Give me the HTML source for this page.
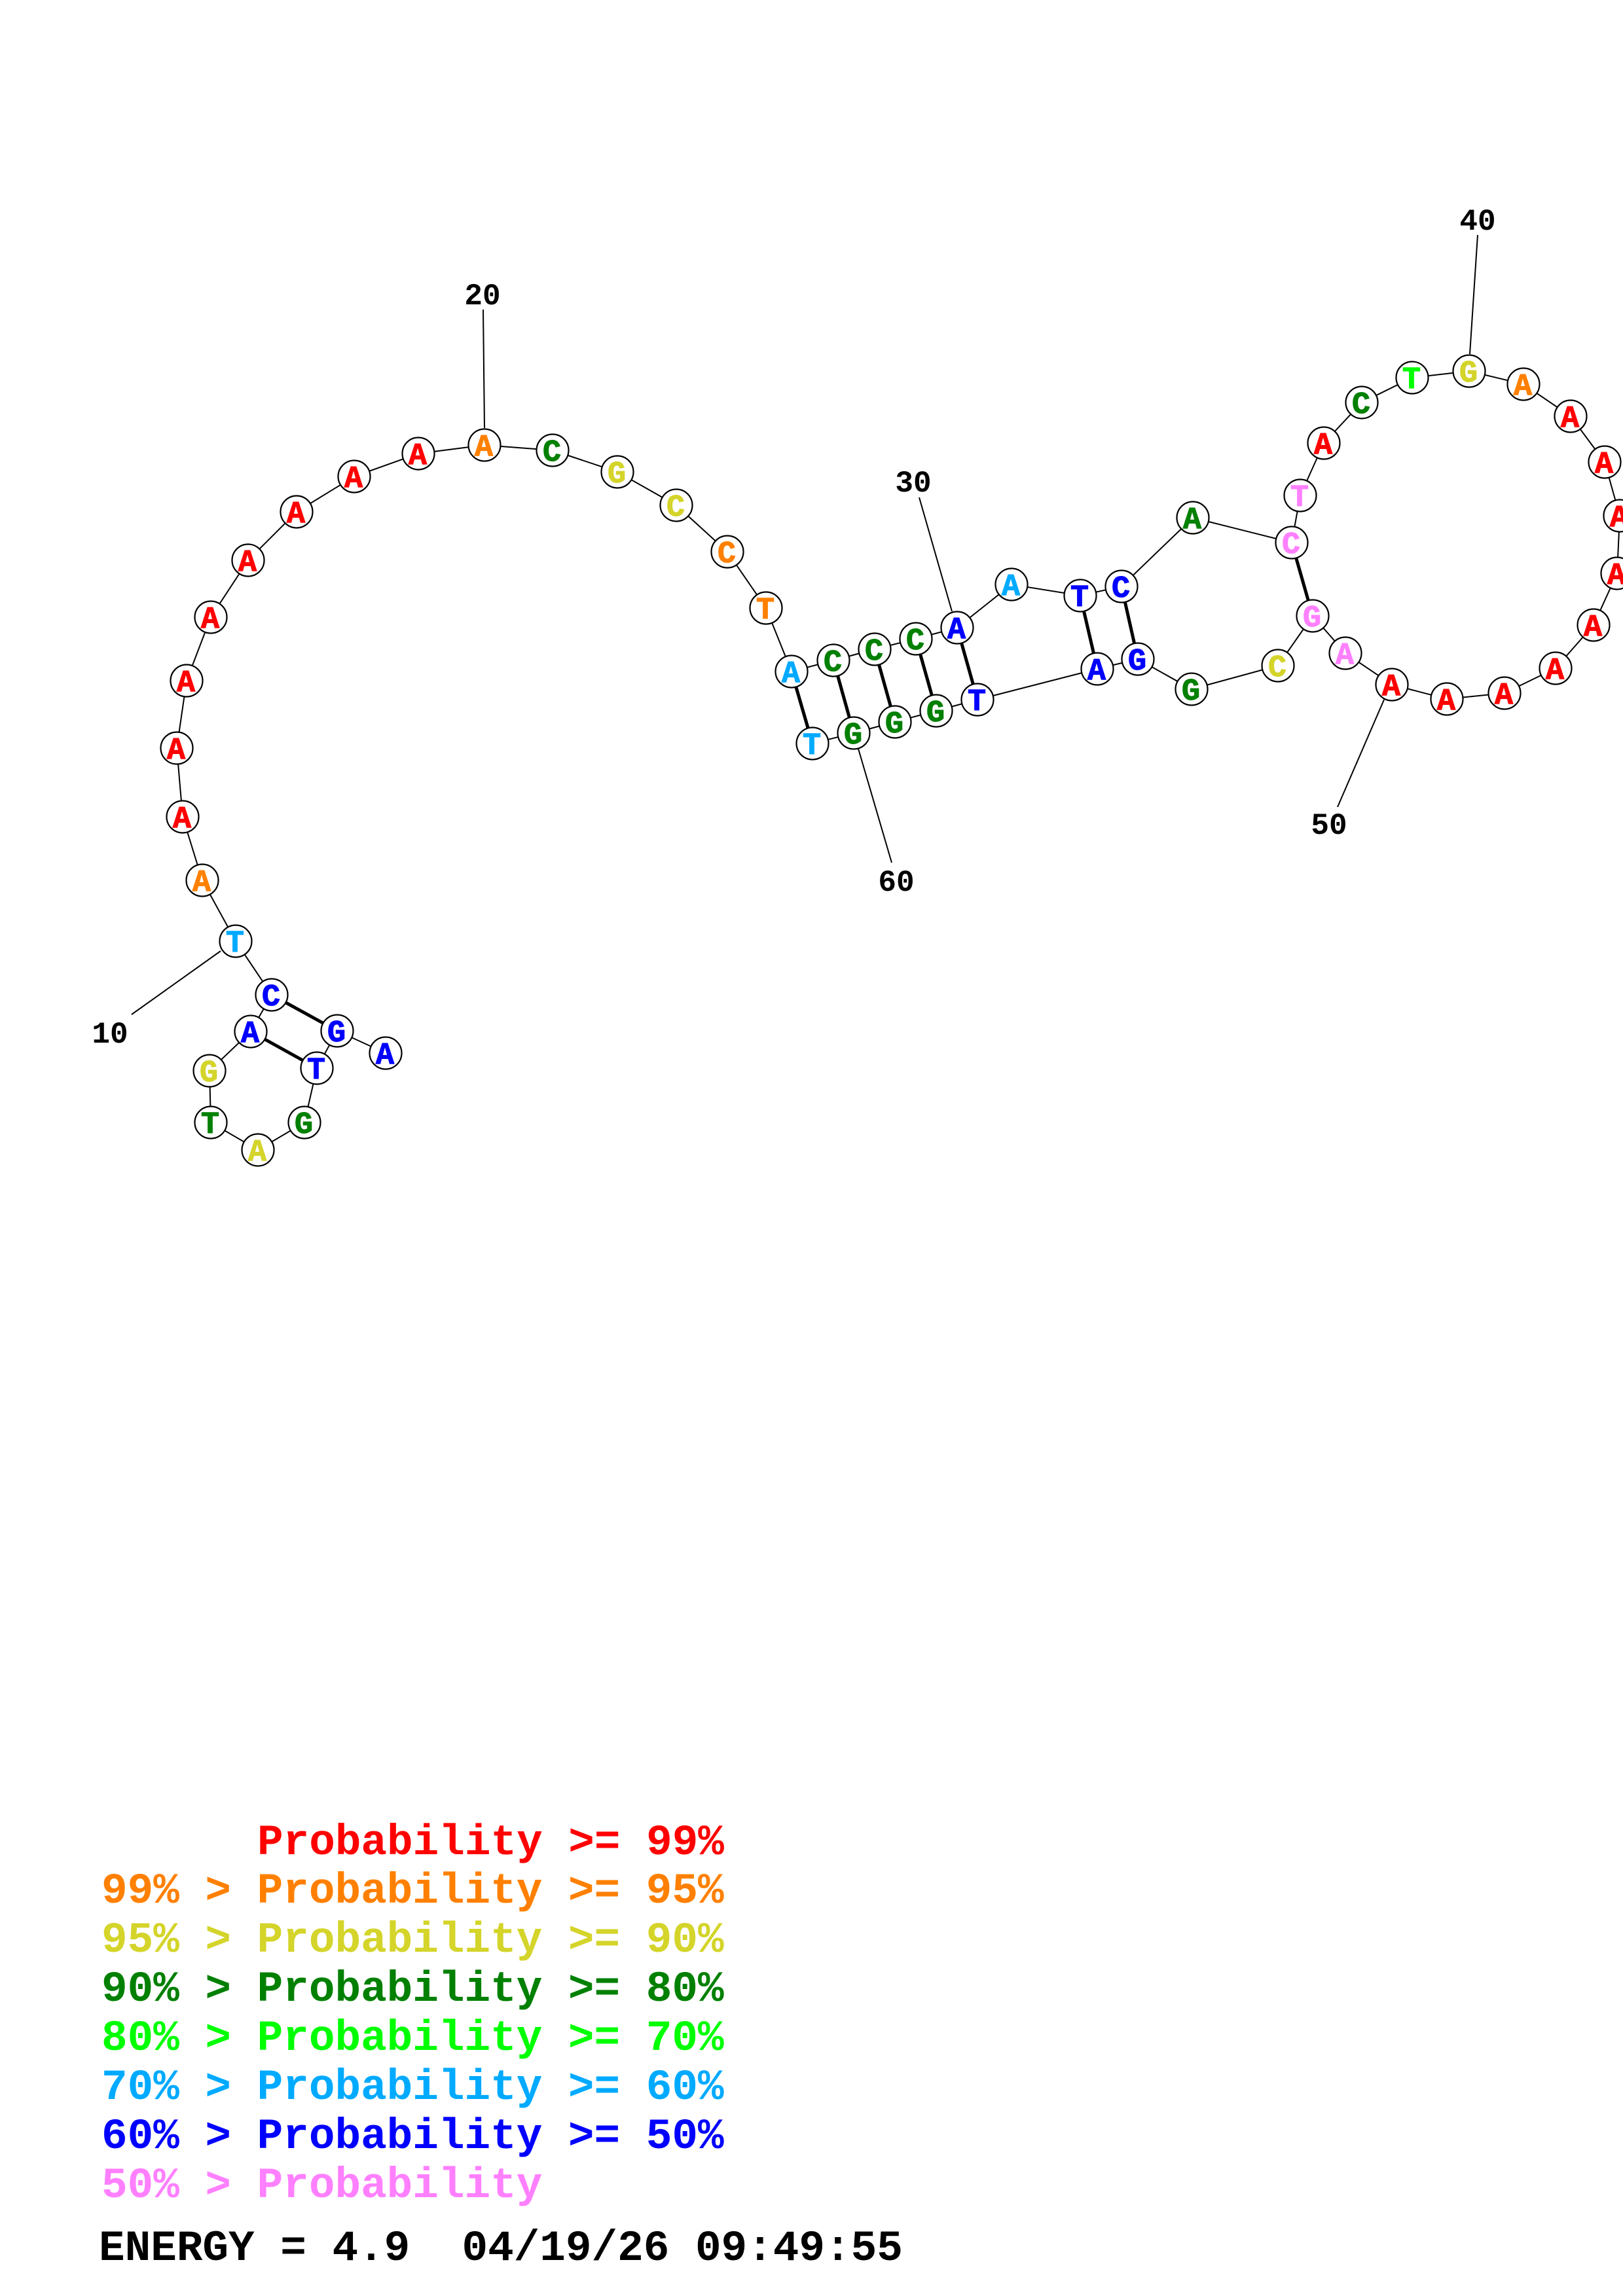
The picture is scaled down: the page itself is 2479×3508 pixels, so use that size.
<!DOCTYPE html>
<html>
<head>
<meta charset="utf-8">
<style>
html,body{margin:0;padding:0;background:#fff;}
svg{display:block;}
.n circle{fill:#fff;stroke:#000;stroke-width:2.2;}
.n text{font-family:"Liberation Mono",monospace;font-weight:bold;font-size:47px;text-anchor:middle;stroke-width:1;}
.lbl{font-family:"Liberation Mono",monospace;font-weight:bold;font-size:46px;text-anchor:middle;fill:#000;}
.leg{font-family:"Liberation Mono",monospace;font-weight:bold;font-size:66px;}
</style>
</head>
<body>
<svg width="2479" height="3508" viewBox="0 0 2479 3508" xmlns="http://www.w3.org/2000/svg">
<rect x="0" y="0" width="2479" height="3508" fill="#fff"/>

<g stroke="#000" stroke-width="2" fill="none">
<line x1="337" y1="1453" x2="201" y2="1550"/>
<line x1="738" y1="473" x2="740" y2="654"/>
<line x1="1404" y1="760" x2="1454" y2="934"/>
<line x1="2257" y1="359" x2="2245" y2="541"/>
<line x1="2114" y1="1069" x2="2043" y2="1233"/>
<line x1="1311" y1="1144" x2="1362" y2="1318"/>
</g>
<text class="lbl" x="168" y="1593">10</text>
<text class="lbl" x="737" y="465">20</text>
<text class="lbl" x="1395" y="751">30</text>
<text class="lbl" x="2257" y="351">40</text>
<text class="lbl" x="2030" y="1274">50</text>
<text class="lbl" x="1369" y="1361">60</text>

<polyline fill="none" stroke="#000" stroke-width="2" points="589,1609 515,1575 484,1632 465,1715 394,1757 322,1715 320,1636 383,1576 415,1520 360,1438 309,1345 279,1248 270,1143 285,1040 322,943 379,856 453,782 541,728 639,693 740,680 844,688 943,721 1033,772 1111,843 1170,929 1209,1026 1273,1009 1336,992 1399,976 1462,959 1545,893 1650,910 1713,896 1822,791 1973,829 1986,757 2022,677 2080,615 2157,577 2244,567 2327,587 2399,636 2451,706 2474,788 2470,876 2434,955 2376,1021 2298,1059 2210,1068 2126,1046 2055,998 2005,941 1952,1017 1820,1053 1738,1007 1676,1022 1493,1069 1430,1086 1367,1103 1304,1120 1241,1136"/>

<g stroke="#000" stroke-width="5">
<line x1="515" y1="1575" x2="415" y2="1520"/>
<line x1="484" y1="1632" x2="383" y2="1576"/>
<line x1="1209" y1="1026" x2="1241" y2="1136"/>
<line x1="1273" y1="1009" x2="1304" y2="1120"/>
<line x1="1336" y1="992" x2="1367" y2="1103"/>
<line x1="1399" y1="976" x2="1430" y2="1086"/>
<line x1="1462" y1="959" x2="1493" y2="1069"/>
<line x1="1650" y1="910" x2="1676" y2="1022"/>
<line x1="1713" y1="896" x2="1738" y2="1007"/>
<line x1="1973" y1="829" x2="2005" y2="941"/>
</g>

<g class="n">
<circle cx="589" cy="1609" r="24.5"/><text x="588" y="1625" fill="#0000ff" stroke="#0000ff">A</text>
<circle cx="515" cy="1575" r="24.5"/><text x="514" y="1591" fill="#0000ff" stroke="#0000ff">G</text>
<circle cx="484" cy="1632" r="24.5"/><text x="483" y="1648" fill="#0000ff" stroke="#0000ff">T</text>
<circle cx="465" cy="1715" r="24.5"/><text x="464" y="1731" fill="#008000" stroke="#008000">G</text>
<circle cx="394" cy="1757" r="24.5"/><text x="393" y="1773" fill="#d4d42a" stroke="#d4d42a">A</text>
<circle cx="322" cy="1715" r="24.5"/><text x="321" y="1731" fill="#008000" stroke="#008000">T</text>
<circle cx="320" cy="1636" r="24.5"/><text x="319" y="1652" fill="#d4d42a" stroke="#d4d42a">G</text>
<circle cx="383" cy="1576" r="24.5"/><text x="382" y="1592" fill="#0000ff" stroke="#0000ff">A</text>
<circle cx="415" cy="1520" r="24.5"/><text x="414" y="1536" fill="#0000ff" stroke="#0000ff">C</text>
<circle cx="360" cy="1438" r="24.5"/><text x="359" y="1454" fill="#00aaff" stroke="#00aaff">T</text>
<circle cx="309" cy="1345" r="24.5"/><text x="308" y="1361" fill="#ff8000" stroke="#ff8000">A</text>
<circle cx="279" cy="1248" r="24.5"/><text x="278" y="1264" fill="#ff0000" stroke="#ff0000">A</text>
<circle cx="270" cy="1143" r="24.5"/><text x="269" y="1159" fill="#ff0000" stroke="#ff0000">A</text>
<circle cx="285" cy="1040" r="24.5"/><text x="284" y="1056" fill="#ff0000" stroke="#ff0000">A</text>
<circle cx="322" cy="943" r="24.5"/><text x="321" y="959" fill="#ff0000" stroke="#ff0000">A</text>
<circle cx="379" cy="856" r="24.5"/><text x="378" y="872" fill="#ff0000" stroke="#ff0000">A</text>
<circle cx="453" cy="782" r="24.5"/><text x="452" y="798" fill="#ff0000" stroke="#ff0000">A</text>
<circle cx="541" cy="728" r="24.5"/><text x="540" y="744" fill="#ff0000" stroke="#ff0000">A</text>
<circle cx="639" cy="693" r="24.5"/><text x="638" y="709" fill="#ff0000" stroke="#ff0000">A</text>
<circle cx="740" cy="680" r="24.5"/><text x="739" y="696" fill="#ff8000" stroke="#ff8000">A</text>
<circle cx="844" cy="688" r="24.5"/><text x="843" y="704" fill="#008000" stroke="#008000">C</text>
<circle cx="943" cy="721" r="24.5"/><text x="942" y="737" fill="#d4d42a" stroke="#d4d42a">G</text>
<circle cx="1033" cy="772" r="24.5"/><text x="1032" y="788" fill="#d4d42a" stroke="#d4d42a">C</text>
<circle cx="1111" cy="843" r="24.5"/><text x="1110" y="859" fill="#ff8000" stroke="#ff8000">C</text>
<circle cx="1170" cy="929" r="24.5"/><text x="1169" y="945" fill="#ff8000" stroke="#ff8000">T</text>
<circle cx="1209" cy="1026" r="24.5"/><text x="1208" y="1042" fill="#00aaff" stroke="#00aaff">A</text>
<circle cx="1273" cy="1009" r="24.5"/><text x="1272" y="1025" fill="#008000" stroke="#008000">C</text>
<circle cx="1336" cy="992" r="24.5"/><text x="1335" y="1008" fill="#008000" stroke="#008000">C</text>
<circle cx="1399" cy="976" r="24.5"/><text x="1398" y="992" fill="#008000" stroke="#008000">C</text>
<circle cx="1462" cy="959" r="24.5"/><text x="1461" y="975" fill="#0000ff" stroke="#0000ff">A</text>
<circle cx="1545" cy="893" r="24.5"/><text x="1544" y="909" fill="#00aaff" stroke="#00aaff">A</text>
<circle cx="1650" cy="910" r="24.5"/><text x="1649" y="926" fill="#0000ff" stroke="#0000ff">T</text>
<circle cx="1713" cy="896" r="24.5"/><text x="1712" y="912" fill="#0000ff" stroke="#0000ff">C</text>
<circle cx="1822" cy="791" r="24.5"/><text x="1821" y="807" fill="#008000" stroke="#008000">A</text>
<circle cx="1973" cy="829" r="24.5"/><text x="1972" y="845" fill="#ff80ff" stroke="#ff80ff">C</text>
<circle cx="1986" cy="757" r="24.5"/><text x="1985" y="773" fill="#ff80ff" stroke="#ff80ff">T</text>
<circle cx="2022" cy="677" r="24.5"/><text x="2021" y="693" fill="#ff0000" stroke="#ff0000">A</text>
<circle cx="2080" cy="615" r="24.5"/><text x="2079" y="631" fill="#008000" stroke="#008000">C</text>
<circle cx="2157" cy="577" r="24.5"/><text x="2156" y="593" fill="#00ff00" stroke="#00ff00">T</text>
<circle cx="2244" cy="567" r="24.5"/><text x="2243" y="583" fill="#d4d42a" stroke="#d4d42a">G</text>
<circle cx="2327" cy="587" r="24.5"/><text x="2326" y="603" fill="#ff8000" stroke="#ff8000">A</text>
<circle cx="2399" cy="636" r="24.5"/><text x="2398" y="652" fill="#ff0000" stroke="#ff0000">A</text>
<circle cx="2451" cy="706" r="24.5"/><text x="2450" y="722" fill="#ff0000" stroke="#ff0000">A</text>
<circle cx="2474" cy="788" r="24.5"/><text x="2473" y="804" fill="#ff0000" stroke="#ff0000">A</text>
<circle cx="2470" cy="876" r="24.5"/><text x="2469" y="892" fill="#ff0000" stroke="#ff0000">A</text>
<circle cx="2434" cy="955" r="24.5"/><text x="2433" y="971" fill="#ff0000" stroke="#ff0000">A</text>
<circle cx="2376" cy="1021" r="24.5"/><text x="2375" y="1037" fill="#ff0000" stroke="#ff0000">A</text>
<circle cx="2298" cy="1059" r="24.5"/><text x="2297" y="1075" fill="#ff0000" stroke="#ff0000">A</text>
<circle cx="2210" cy="1068" r="24.5"/><text x="2209" y="1084" fill="#ff0000" stroke="#ff0000">A</text>
<circle cx="2126" cy="1046" r="24.5"/><text x="2125" y="1062" fill="#ff0000" stroke="#ff0000">A</text>
<circle cx="2055" cy="998" r="24.5"/><text x="2054" y="1014" fill="#ff80ff" stroke="#ff80ff">A</text>
<circle cx="2005" cy="941" r="24.5"/><text x="2004" y="957" fill="#ff80ff" stroke="#ff80ff">G</text>
<circle cx="1952" cy="1017" r="24.5"/><text x="1951" y="1033" fill="#d4d42a" stroke="#d4d42a">C</text>
<circle cx="1820" cy="1053" r="24.5"/><text x="1819" y="1069" fill="#008000" stroke="#008000">G</text>
<circle cx="1738" cy="1007" r="24.5"/><text x="1737" y="1023" fill="#0000ff" stroke="#0000ff">G</text>
<circle cx="1676" cy="1022" r="24.5"/><text x="1675" y="1038" fill="#0000ff" stroke="#0000ff">A</text>
<circle cx="1493" cy="1069" r="24.5"/><text x="1492" y="1085" fill="#0000ff" stroke="#0000ff">T</text>
<circle cx="1430" cy="1086" r="24.5"/><text x="1429" y="1102" fill="#008000" stroke="#008000">G</text>
<circle cx="1367" cy="1103" r="24.5"/><text x="1366" y="1119" fill="#008000" stroke="#008000">G</text>
<circle cx="1304" cy="1120" r="24.5"/><text x="1303" y="1136" fill="#008000" stroke="#008000">G</text>
<circle cx="1241" cy="1136" r="24.5"/><text x="1240" y="1152" fill="#00aaff" stroke="#00aaff">T</text>
</g>

<text class="leg" x="393" y="2833" fill="#ff0000">Probability &gt;= 99%</text>
<text class="leg" x="155" y="2907" fill="#ff8000">99% &gt; Probability &gt;= 95%</text>
<text class="leg" x="155" y="2982" fill="#d4d42a">95% &gt; Probability &gt;= 90%</text>
<text class="leg" x="155" y="3057" fill="#008000">90% &gt; Probability &gt;= 80%</text>
<text class="leg" x="155" y="3132" fill="#00ff00">80% &gt; Probability &gt;= 70%</text>
<text class="leg" x="155" y="3207" fill="#00aaff">70% &gt; Probability &gt;= 60%</text>
<text class="leg" x="155" y="3282" fill="#0000ff">60% &gt; Probability &gt;= 50%</text>
<text class="leg" x="155" y="3357" fill="#ff80ff">50% &gt; Probability</text>
<text class="leg" x="151" y="3453" fill="#000000" xml:space="preserve">ENERGY = 4.9  04/19/26 09:49:55</text>
</svg>
</body>
</html>
